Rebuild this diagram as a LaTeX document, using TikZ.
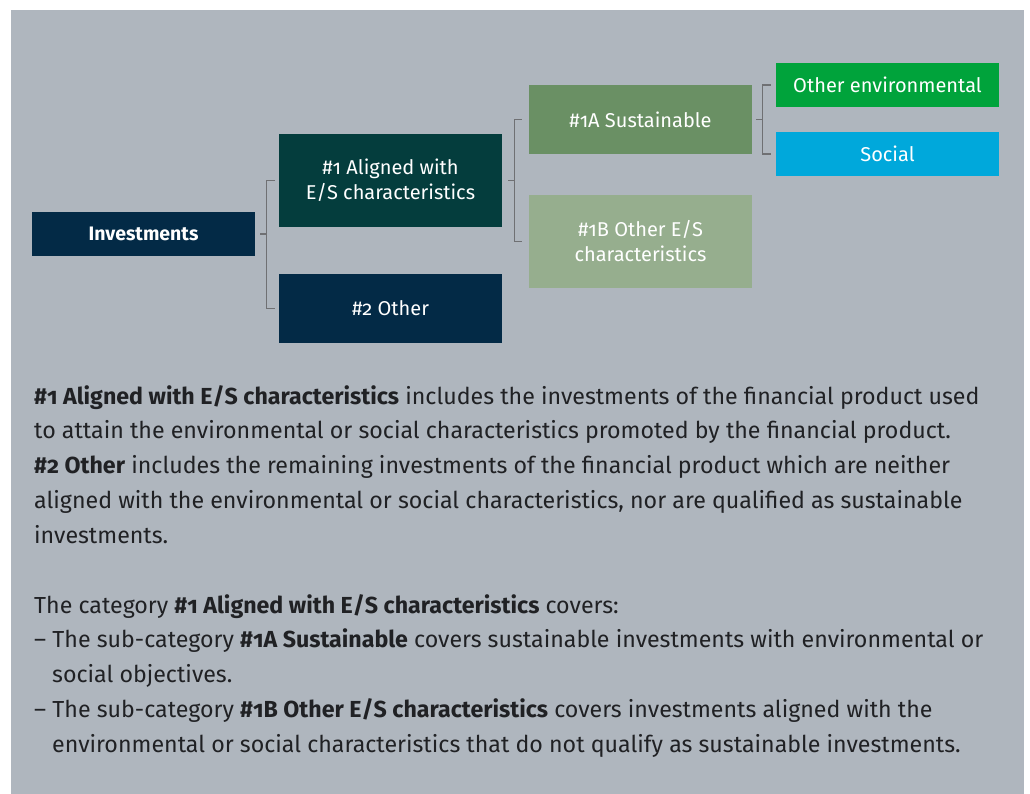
\documentclass[tikz,border=0pt]{standalone}
\usepackage{fontspec}
\setmainfont[Numbers=OldStyle]{Fira Sans}
\usepackage{tikz}
\usetikzlibrary{positioning}

\definecolor{panelgray}{HTML}{AFB6BE}
\definecolor{navy}{HTML}{032A46}
\definecolor{darkteal}{HTML}{043D3D}
\definecolor{sagegreen}{HTML}{6A9064}
\definecolor{palegreen}{HTML}{96AE8E}
\definecolor{envgreen}{HTML}{00A33B}
\definecolor{socialblue}{HTML}{00A8DB}
\definecolor{bracketgray}{HTML}{6F7073}
\definecolor{inktext}{HTML}{202124}

\begin{document}
\begin{tikzpicture}[x=1pt,y=-1pt]
      \tikzstyle{box}=[rectangle,inner sep=0pt,minimum width=223pt,text=white,align=center,
                       font=\fontsize{20}{25}\selectfont]
      \tikzstyle{brk}=[draw=bracketgray,line width=1.1pt]
      \tikzstyle{para}=[anchor=north west,inner sep=0pt,align=left,text=inktext,
                        font=\fontsize{23.2}{34.8}\selectfont]

      % frame
      \useasboundingbox (0,0) rectangle (1030,794);
      \fill[white] (0,0) rectangle (1030,794);
      \fill[panelgray] (11,10) rectangle (1024,794);

      % tree
      \node[box,fill=navy,minimum height=44pt,font=\fontsize{19.5}{25}\selectfont\bfseries]
        (inv) at (143.5,234) {Investments};
      \node[box,fill=darkteal,minimum height=93pt](al) at (390.5,180.5) {\#1 Aligned with\\E/S characteristics};
      \node[box,fill=navy,minimum height=69pt](oth) at (390.5,308.5) {\#2 Other};
      \node[box,fill=sagegreen,minimum height=69pt](sus) at (640.5,119.5) {\#1A Sustainable};
      \node[box,fill=palegreen,minimum height=93pt](oes) at (640.5,241.5) {\#1B Other E/S\\characteristics};
      \node[box,fill=envgreen,minimum height=44pt](env) at (887.5,85) {Other environmental};
      \node[box,fill=socialblue,minimum height=44pt](soc) at (887.5,154) {Social};

      % brackets
      \draw[brk] ([xshift=5pt]inv.east) -- ([xshift=-12pt]al.west |- inv.east);
      \draw[brk] ([xshift=-4pt]al.west) -| ([xshift=-12pt]oth.west) -- ([xshift=-4pt]oth.west);
      \draw[brk] ([xshift=6pt]al.east) -- ([xshift=-14pt]sus.west |- al.east);
      \draw[brk] ([xshift=-7pt]sus.west) -| ([xshift=-14pt]oes.west) -- ([xshift=-7pt]oes.west);
      \draw[brk] ([xshift=4pt]sus.east) -- ([xshift=-13pt]env.west |- sus.east);
      \draw[brk] ([xshift=-5pt]env.west) -| ([xshift=-13pt]soc.west) -- ([xshift=-5pt]soc.west);

      % notes
      \node[para](notea) at (34,385) {%
        \textbf{\#1 Aligned with E/S characteristics} includes the investments of the financial product used\\
        to attain the environmental or social characteristics promoted by the financial product.\\
        \textbf{\#2 Other} includes the remaining investments of the financial product which are neither\\
        aligned with the environmental or social characteristics, nor are qualified as sustainable\\
        investments.};
      \node[para](noteb) at (34,594) {%
        The category \textbf{\#1 Aligned with E/S characteristics} covers:\\
        -- The sub-category \textbf{\#1A Sustainable} covers sustainable investments with environmental or\\
        \hspace*{18pt}social objectives.\\
        -- The sub-category \textbf{\#1B Other E/S characteristics} covers investments aligned with the\\
        \hspace*{18pt}environmental or social characteristics that do not qualify as sustainable investments.};
\end{tikzpicture}
\end{document}
